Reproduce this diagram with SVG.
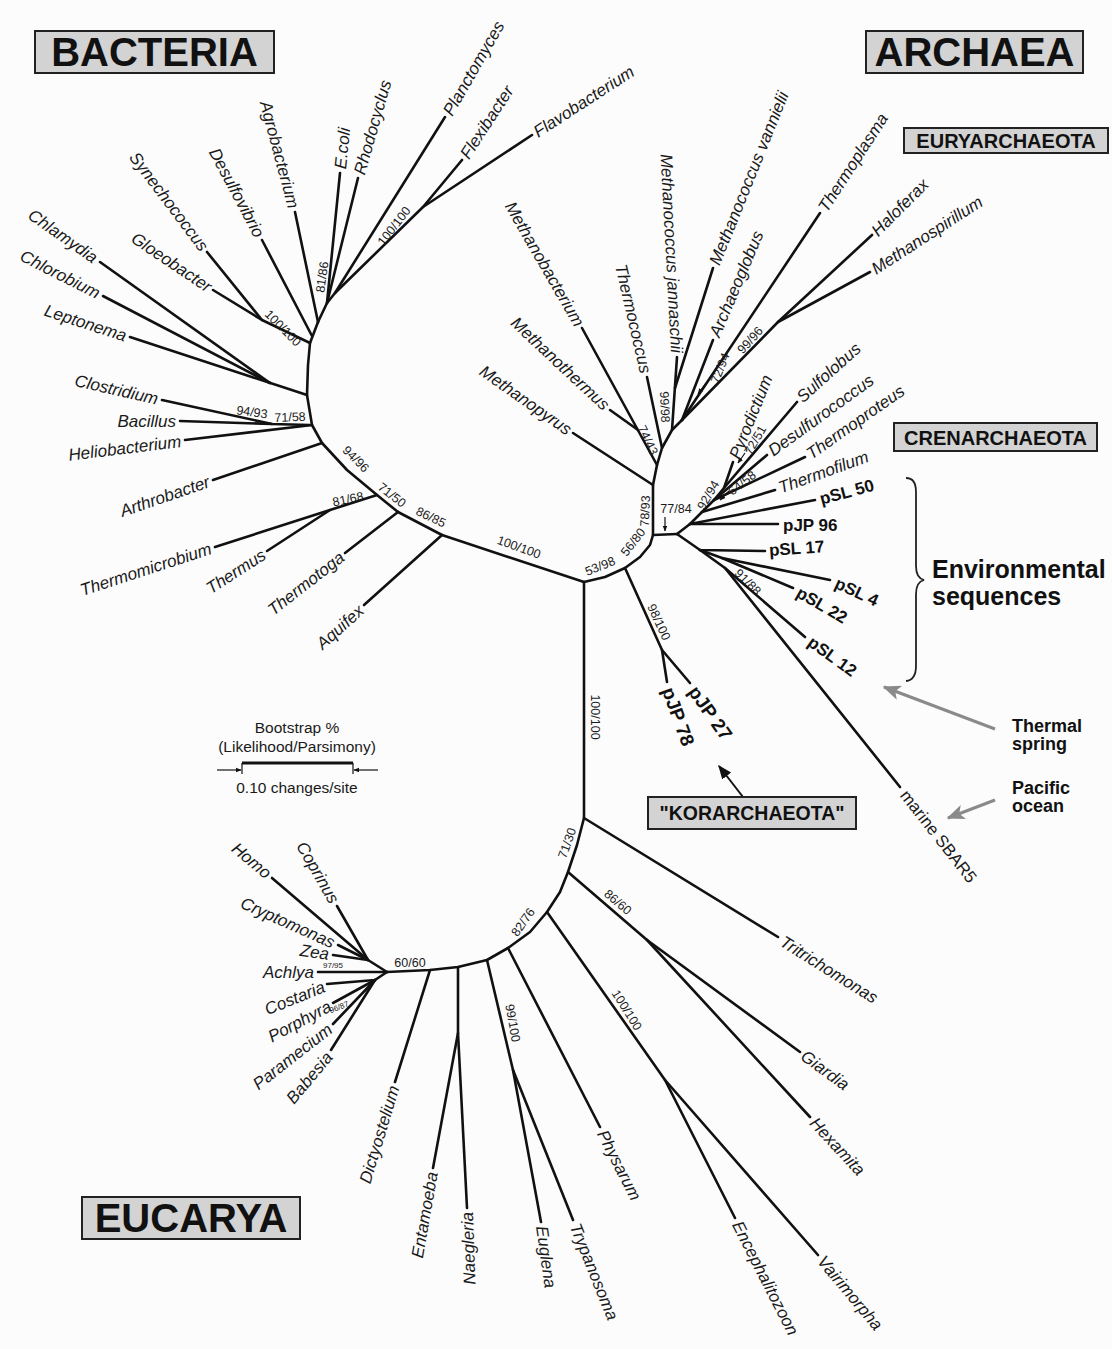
<svg xmlns="http://www.w3.org/2000/svg" width="1112" height="1349" viewBox="0 0 1112 1349">
<defs>
<style>
.br{stroke:#111;stroke-width:2.6;fill:none;stroke-linecap:round;stroke-linejoin:round}
.tx{font-family:"Liberation Sans",Arial,sans-serif;font-style:italic;font-size:17px;fill:#1a1a1a}
.ev{font-family:"Liberation Sans",Arial,sans-serif;font-weight:bold;font-size:17px;fill:#111}
.bs{font-family:"Liberation Sans",Arial,sans-serif;font-size:12.5px;fill:#1a1a1a;text-anchor:middle}
.sm{font-family:"Liberation Sans",Arial,sans-serif;font-size:8px;fill:#1a1a1a;text-anchor:middle}
.box{fill:#d3d3d3;stroke:#222;stroke-width:2}
.hd{font-family:"Liberation Sans",Arial,sans-serif;font-weight:bold;fill:#111;text-anchor:middle}
.nt{font-family:"Liberation Sans",Arial,sans-serif;font-size:15.5px;fill:#1a1a1a;text-anchor:middle}
.gr{stroke:#8a8a8a;stroke-width:3;fill:none}
.sa{stroke:#111;stroke-width:1.2;fill:none}
</style>
<marker id="ah" viewBox="0 0 10 10" refX="9" refY="5" markerWidth="7" markerHeight="7" orient="auto"><path d="M0,1 L10,5 L0,9 Z" fill="#111"/></marker>
<marker id="ahs" viewBox="0 0 10 10" refX="9" refY="5" markerWidth="5" markerHeight="5" orient="auto"><path d="M0,1 L10,5 L0,9 Z" fill="#111"/></marker>
<marker id="ahg" viewBox="0 0 12 10" refX="11" refY="5" markerWidth="6" markerHeight="5" orient="auto"><path d="M0,0 L12,5 L0,10 L3,5 Z" fill="#8a8a8a"/></marker>
</defs>
<rect width="1112" height="1349" fill="#fcfcfc"/>

<g id="connectors">
<!-- Bacteria -->
<path class="br" d="M584,582 L442,535 L398,512 L377,495 L347,470 L322,443 L312,425 L307,395 L308,365 L310,343 L318,322"/>
<path class="br" d="M442,535 L364,605"/>
<path class="br" d="M398,512 L345,553"/>
<path class="br" d="M377,495 L330,510 L215,547"/>
<path class="br" d="M330,510 L267,551"/>
<path class="br" d="M322,443 L213,480"/>
<path class="br" d="M312,425 L185,440"/>
<path class="br" d="M310,425 L272,424 L162,400"/>
<path class="br" d="M272,424 L180,421"/>
<path class="br" d="M307,395 L130,337"/>
<path class="br" d="M270,383 L100,262"/>
<path class="br" d="M270,383 L103,296"/>
<path class="br" d="M310,343 L262,320 L207,252"/>
<path class="br" d="M262,320 L213,290"/>
<path class="br" d="M312,336 L262,240"/>
<path class="br" d="M318,322 L295,212"/>
<path class="br" d="M318,322 L327,303 L340,173"/>
<path class="br" d="M327,303 L358,178"/>
<path class="br" d="M327,303 L335,293 L445,117"/>
<path class="br" d="M335,293 L423,207 L462,160"/>
<path class="br" d="M423,207 L532,135"/>
<!-- Archaea -->
<path class="br" d="M584,582 L605,577 L625,568 L640,557 L650,545 L653,535 L653,485 L657,465 L662,448 L672,430 L682,420"/>
<path class="br" d="M653,535 L677,534"/>
<path class="br" d="M625,568 L662,650 L667,682"/>
<path class="br" d="M662,650 L690,683"/>
<path class="br" d="M653,485 L573,433"/>
<path class="br" d="M657,465 L582,328"/>
<path class="br" d="M610,410 L638,430"/>
<path class="br" d="M662,448 L647,377"/>
<path class="br" d="M672,430 L677,357"/>
<path class="br" d="M675,388 L713,268"/>
<path class="br" d="M682,420 L713,340"/>
<path class="br" d="M682,420 L820,213"/>
<path class="br" d="M682,420 L778,322 L872,235"/>
<path class="br" d="M778,322 L870,272"/>
<path class="br" d="M677,534 L690,524 L778,524"/>
<path class="br" d="M690,524 L815,500"/>
<path class="br" d="M690,524 L702,512 L775,490"/>
<path class="br" d="M702,512 L714,500 L805,457"/>
<path class="br" d="M714,500 L767,455"/>
<path class="br" d="M714,500 L724,488 L797,402"/>
<path class="br" d="M724,488 L733,462"/>
<path class="br" d="M677,534 L700,550 L765,551"/>
<path class="br" d="M700,550 L722,558 L830,580"/>
<path class="br" d="M722,558 L793,588"/>
<path class="br" d="M700,550 L725,568 L900,787"/>
<path class="br" d="M725,568 L805,637"/>
<!-- Eucarya -->
<path class="br" d="M584,582 L584,818 L577,845 L568,872 L560,892 L547,912 L530,932 L508,948 L487,960 L458,967 L430,970 L387,972"/>
<path class="br" d="M584,818 L778,937"/>
<path class="br" d="M568,872 L647,940 L800,1052"/>
<path class="br" d="M647,940 L810,1117"/>
<path class="br" d="M547,912 L665,1080 L735,1218"/>
<path class="br" d="M665,1080 L818,1255"/>
<path class="br" d="M508,948 L600,1127"/>
<path class="br" d="M487,960 L513,1070 L541,1222"/>
<path class="br" d="M513,1070 L573,1220"/>
<path class="br" d="M458,967 L458,1033 L433,1168"/>
<path class="br" d="M458,1033 L467,1208"/>
<path class="br" d="M430,970 L395,1082"/>
<path class="br" d="M387,972 L368,960 L272,878"/>
<path class="br" d="M368,960 L337,906"/>
<path class="br" d="M368,960 L338,945"/>
<path class="br" d="M368,960 L333,955"/>
<path class="br" d="M387,972 L318,972"/>
<path class="br" d="M387,972 L375,980 L327,984"/>
<path class="br" d="M375,980 L333,1003"/>
<path class="br" d="M375,980 L333,1024"/>
<path class="br" d="M375,980 L331,1050"/>
<!-- small pointer arrows -->
<path class="sa" d="M665,517 L665,531" marker-end="url(#ahs)"/>
<path class="sa" d="M706,383 L698,394" marker-end="url(#ahs)"/>
<path class="sa" d="M729,491 L720,500" marker-end="url(#ahs)"/>
<path class="sa" d="M745,453 L738,463" marker-end="url(#ahs)"/>
<!-- annotation arrows -->
<path d="M743,797 L719,766" stroke="#111" stroke-width="2" fill="none" marker-end="url(#ah)"/>
<path class="gr" d="M995,729 L884,687" marker-end="url(#ahg)"/>
<path class="gr" d="M995,800 L948,818" marker-end="url(#ahg)"/>
<path d="M906,478 Q916,478 916,492 L916,566 Q916,578 924,580 Q916,582 916,594 L916,666 Q916,680 906,681" stroke="#222" stroke-width="1.8" fill="none"/>
</g>

<g id="headers">
<g id="bacteria-box"><rect class="box" x="35" y="31" width="239" height="42"/><text class="hd" x="154.5" y="66" style="font-size:40px">BACTERIA</text></g>
<g id="archaea-box"><rect class="box" x="866" y="31" width="217" height="42"/><text class="hd" x="974.5" y="66" style="font-size:40px">ARCHAEA</text></g>
<g id="euryarchaeota-box"><rect class="box" x="904" y="128" width="204" height="25"/><text class="hd" x="1006" y="148" style="font-size:20px">EURYARCHAEOTA</text></g>
<g id="crenarchaeota-box"><rect class="box" x="894" y="423" width="203" height="28"/><text class="hd" x="995.5" y="445" style="font-size:20px">CRENARCHAEOTA</text></g>
<g id="korarchaeota-box"><rect class="box" x="648" y="797" width="208" height="32"/><text class="hd" x="752" y="820" style="font-size:19.5px">"KORARCHAEOTA"</text></g>
<g id="eucarya-box"><rect class="box" x="82" y="1197" width="218" height="42"/><text class="hd" x="191" y="1232" style="font-size:40px">EUCARYA</text></g>
</g>

<g id="annotations">
<text class="ev" x="932" y="578" style="font-size:25px">Environmental</text>
<text class="ev" x="932" y="605" style="font-size:25px">sequences</text>
<text class="ev" x="1012" y="732" style="font-size:18px">Thermal</text>
<text class="ev" x="1012" y="750" style="font-size:18px">spring</text>
<text class="ev" x="1012" y="794" style="font-size:18px">Pacific</text>
<text class="ev" x="1012" y="812" style="font-size:18px">ocean</text>
<g id="scale-bar">
<text class="nt" x="297" y="733">Bootstrap %</text>
<text class="nt" x="297" y="752">(Likelihood/Parsimony)</text>
<line x1="242" y1="763" x2="353" y2="763" stroke="#111" stroke-width="3"/>
<line x1="242" y1="763" x2="242" y2="774" stroke="#111" stroke-width="1.2"/>
<line x1="353" y1="763" x2="353" y2="774" stroke="#111" stroke-width="1.2"/>
<path class="sa" d="M217,770 L241,770" marker-end="url(#ahs)"/>
<path class="sa" d="M378,770 L354,770" marker-end="url(#ahs)"/>
<text class="nt" x="297" y="793">0.10 changes/site</text>
</g>
</g>

<g id="taxa">
<g id="n-chlamydia"><text class="tx" text-anchor="end" dy="0.35em" transform="translate(96,259) rotate(35)">Chlamydia</text></g>
<g id="n-chlorobium"><text class="tx" text-anchor="end" dy="0.35em" transform="translate(99,294) rotate(27)">Chlorobium</text></g>
<g id="n-leptonema"><text class="tx" text-anchor="end" dy="0.35em" transform="translate(126,336) rotate(18)">Leptonema</text></g>
<g id="n-clostridium"><text class="tx" text-anchor="end" dy="0.35em" transform="translate(158,399) rotate(13)">Clostridium</text></g>
<g id="n-bacillus"><text class="tx" text-anchor="end" dy="0.35em" transform="translate(176,421) rotate(0)">Bacillus</text></g>
<g id="n-heliobacterium"><text class="tx" text-anchor="end" dy="0.35em" transform="translate(181,441) rotate(-7)">Heliobacterium</text></g>
<g id="n-arthrobacter"><text class="tx" text-anchor="end" dy="0.35em" transform="translate(209,481) rotate(-19)">Arthrobacter</text></g>
<g id="n-thermomicrobium"><text class="tx" text-anchor="end" dy="0.35em" transform="translate(211,548) rotate(-18)">Thermomicrobium</text></g>
<g id="n-thermus"><text class="tx" text-anchor="end" dy="0.35em" transform="translate(264,553) rotate(-33)">Thermus</text></g>
<g id="n-thermotoga"><text class="tx" text-anchor="end" dy="0.35em" transform="translate(342,555) rotate(-38)">Thermotoga</text></g>
<g id="n-aquifex"><text class="tx" text-anchor="end" dy="0.35em" transform="translate(361,608) rotate(-42)">Aquifex</text></g>
<g id="n-gloeobacter"><text class="tx" text-anchor="end" dy="0.35em" transform="translate(210,288) rotate(34)">Gloeobacter</text></g>
<g id="n-synechococcus"><text class="tx" text-anchor="end" dy="0.35em" transform="translate(205,249) rotate(53)">Synechococcus</text></g>
<g id="n-desulfovibrio"><text class="tx" text-anchor="end" dy="0.35em" transform="translate(260,236) rotate(62)">Desulfovibrio</text></g>
<g id="n-agrobacterium"><text class="tx" text-anchor="end" dy="0.35em" transform="translate(294,208) rotate(75)">Agrobacterium</text></g>
<g id="n-ecoli"><text class="tx" dy="0.35em" transform="translate(340,169) rotate(-84)">E.coli</text></g>
<g id="n-rhodocyclus"><text class="tx" dy="0.35em" transform="translate(359,174) rotate(-74)">Rhodocyclus</text></g>
<g id="n-planctomyces"><text class="tx" dy="0.35em" transform="translate(447,114) rotate(-60)">Planctomyces</text></g>
<g id="n-flexibacter"><text class="tx" dy="0.35em" transform="translate(464,157) rotate(-57)">Flexibacter</text></g>
<g id="n-flavobacterium"><text class="tx" dy="0.35em" transform="translate(535,133) rotate(-33)">Flavobacterium</text></g>

<g id="n-methanopyrus"><text class="tx" text-anchor="end" dy="0.35em" transform="translate(570,431) rotate(35)">Methanopyrus</text></g>
<g id="n-methanothermus"><text class="tx" text-anchor="end" dy="0.35em" transform="translate(607,407) rotate(43)">Methanothermus</text></g>
<g id="n-methanobacterium"><text class="tx" text-anchor="end" dy="0.35em" transform="translate(580,325) rotate(60)">Methanobacterium</text></g>
<g id="n-thermococcus"><text class="tx" text-anchor="end" dy="0.35em" transform="translate(646,373) rotate(77)">Thermococcus</text></g>
<g id="n-mjannaschii"><text class="tx" text-anchor="end" dy="0.35em" transform="translate(677,353) rotate(87)">Methanococcus jannaschii</text></g>
<g id="n-mvannielii"><text class="tx" dy="0.35em" transform="translate(714,264) rotate(-68)">Methanococcus vannielii</text></g>
<g id="n-archaeoglobus"><text class="tx" dy="0.35em" transform="translate(714,336) rotate(-67)">Archaeoglobus</text></g>
<g id="n-thermoplasma"><text class="tx" dy="0.35em" transform="translate(822,210) rotate(-57)">Thermoplasma</text></g>
<g id="n-haloferax"><text class="tx" dy="0.35em" transform="translate(874,233) rotate(-45)">Haloferax</text></g>
<g id="n-methanospirillum"><text class="tx" dy="0.35em" transform="translate(873,270) rotate(-33)">Methanospirillum</text></g>
<g id="n-pyrodictium"><text class="tx" dy="0.35em" transform="translate(734,458) rotate(-68)">Pyrodictium</text></g>
<g id="n-sulfolobus"><text class="tx" dy="0.35em" transform="translate(799,399) rotate(-42)">Sulfolobus</text></g>
<g id="n-desulfurococcus"><text class="tx" dy="0.35em" transform="translate(770,452) rotate(-36)">Desulfurococcus</text></g>
<g id="n-thermoproteus"><text class="tx" dy="0.35em" transform="translate(808,455) rotate(-35)">Thermoproteus</text></g>
<g id="n-thermofilum"><text class="tx" dy="0.35em" transform="translate(779,488) rotate(-20)">Thermofilum</text></g>
<g id="n-psl50"><text class="ev" dy="0.35em" transform="translate(820,499) rotate(-15)">pSL 50</text></g>
<g id="n-pjp96"><text class="ev" dy="0.35em" transform="translate(783,525) rotate(0)">pJP 96</text></g>
<g id="n-psl17"><text class="ev" dy="0.35em" transform="translate(769,550) rotate(-4)">pSL 17</text></g>
<g id="n-psl4"><text class="ev" dy="0.35em" transform="translate(836,582) rotate(25)">pSL 4</text></g>
<g id="n-psl22"><text class="ev" dy="0.35em" transform="translate(798,591) rotate(30)">pSL 22</text></g>
<g id="n-psl12"><text class="ev" dy="0.35em" transform="translate(810,640) rotate(36)">pSL 12</text></g>
<g id="n-sbar5"><text class="tx" style="font-style:normal" dy="0.35em" transform="translate(904,792) rotate(52)">marine SBAR5</text></g>
<g id="n-pjp27"><text class="ev" style="font-size:19px" dy="0.35em" transform="translate(693,688) rotate(55)">pJP 27</text></g>
<g id="n-pjp78"><text class="ev" style="font-size:19px" dy="0.35em" transform="translate(668,688) rotate(70)">pJP 78</text></g>

<g id="n-homo"><text class="tx" text-anchor="end" dy="0.35em" transform="translate(269,875) rotate(40)">Homo</text></g>
<g id="n-coprinus"><text class="tx" text-anchor="end" dy="0.35em" transform="translate(335,902) rotate(60)">Coprinus</text></g>
<g id="n-cryptomonas"><text class="tx" text-anchor="end" dy="0.35em" transform="translate(334,943) rotate(24)">Cryptomonas</text></g>
<g id="n-zea"><text class="tx" text-anchor="end" dy="0.35em" transform="translate(329,954) rotate(8)">Zea</text></g>
<g id="n-achlya"><text class="tx" text-anchor="end" dy="0.35em" transform="translate(314,972) rotate(0)">Achlya</text></g>
<g id="n-costaria"><text class="tx" text-anchor="end" dy="0.35em" transform="translate(324,986) rotate(-22)">Costaria</text></g>
<g id="n-porphyra"><text class="tx" text-anchor="end" dy="0.35em" transform="translate(330,1005) rotate(-28)">Porphyra</text></g>
<g id="n-paramecium"><text class="tx" text-anchor="end" dy="0.35em" transform="translate(330,1027) rotate(-38)">Paramecium</text></g>
<g id="n-babesia"><text class="tx" text-anchor="end" dy="0.35em" transform="translate(329,1054) rotate(-50)">Babesia</text></g>
<g id="n-dictyostelium"><text class="tx" text-anchor="end" dy="0.35em" transform="translate(394,1086) rotate(-73)">Dictyostelium</text></g>
<g id="n-entamoeba"><text class="tx" text-anchor="end" dy="0.35em" transform="translate(432,1172) rotate(-80)">Entamoeba</text></g>
<g id="n-naegleria"><text class="tx" text-anchor="end" dy="0.35em" transform="translate(467,1212) rotate(-92)">Naegleria</text></g>
<g id="n-euglena"><text class="tx" dy="0.35em" transform="translate(542,1226) rotate(82)">Euglena</text></g>
<g id="n-trypanosoma"><text class="tx" dy="0.35em" transform="translate(575,1224) rotate(68)">Trypanosoma</text></g>
<g id="n-physarum"><text class="tx" dy="0.35em" transform="translate(602,1131) rotate(63)">Physarum</text></g>
<g id="n-encephalitozoon"><text class="tx" dy="0.35em" transform="translate(737,1222) rotate(63)">Encephalitozoon</text></g>
<g id="n-vairimorpha"><text class="tx" dy="0.35em" transform="translate(821,1258) rotate(50)">Vairimorpha</text></g>
<g id="n-hexamita"><text class="tx" dy="0.35em" transform="translate(813,1120) rotate(47)">Hexamita</text></g>
<g id="n-giardia"><text class="tx" dy="0.35em" transform="translate(803,1054) rotate(36)">Giardia</text></g>
<g id="n-tritrichomonas"><text class="tx" dy="0.35em" transform="translate(782,940) rotate(32)">Tritrichomonas</text></g>
</g>

<g id="bootstrap">
<text class="bs" dy="0.35em" transform="translate(252,412) rotate(8)">94/93</text>
<text class="bs" dy="0.35em" transform="translate(290,417) rotate(-2)">71/58</text>
<text class="bs" dy="0.35em" transform="translate(356,459) rotate(45)">94/96</text>
<text class="bs" dy="0.35em" transform="translate(348,499) rotate(-12)">81/68</text>
<text class="bs" dy="0.35em" transform="translate(392,495) rotate(38)">71/50</text>
<text class="bs" dy="0.35em" transform="translate(431,517) rotate(25)">86/85</text>
<text class="bs" dy="0.35em" transform="translate(519,547) rotate(20)">100/100</text>
<text class="bs" dy="0.35em" transform="translate(600,566) rotate(-22)">53/98</text>
<text class="bs" dy="0.35em" transform="translate(633,542) rotate(-52)">56/80</text>
<text class="bs" dy="0.35em" transform="translate(645,511) rotate(-88)">78/93</text>
<text class="bs" dy="0.35em" transform="translate(676,509)">77/84</text>
<text class="bs" dy="0.35em" transform="translate(708,495) rotate(-60)">92/94</text>
<text class="bs" dy="0.35em" transform="translate(742,483) rotate(-38)">64/58</text>
<text class="bs" dy="0.35em" transform="translate(755,440) rotate(-60)">72/51</text>
<text class="bs" dy="0.35em" transform="translate(648,440) rotate(65)">74/43</text>
<text class="bs" dy="0.35em" transform="translate(665,407) rotate(88)">99/98</text>
<text class="bs" dy="0.35em" transform="translate(720,368) rotate(-68)">72/94</text>
<text class="bs" dy="0.35em" transform="translate(750,340) rotate(-48)">99/96</text>
<text class="bs" dy="0.35em" transform="translate(322,277) rotate(-82)">81/86</text>
<text class="bs" dy="0.35em" transform="translate(283,328) rotate(45)">100/100</text>
<text class="bs" dy="0.35em" transform="translate(394,226) rotate(-52)">100/100</text>
<text class="bs" dy="0.35em" transform="translate(659,622) rotate(65)">98/100</text>
<text class="bs" dy="0.35em" transform="translate(748,582) rotate(45)">91/88</text>
<text class="bs" dy="0.35em" transform="translate(595,717) rotate(90)">100/100</text>
<text class="bs" dy="0.35em" transform="translate(567,843) rotate(-70)">71/30</text>
<text class="bs" dy="0.35em" transform="translate(618,902) rotate(40)">86/60</text>
<text class="bs" dy="0.35em" transform="translate(523,922) rotate(-55)">82/76</text>
<text class="bs" dy="0.35em" transform="translate(410,963)">60/60</text>
<text class="bs" dy="0.35em" transform="translate(513,1023) rotate(80)">99/100</text>
<text class="bs" dy="0.35em" transform="translate(627,1010) rotate(58)">100/100</text>
<text class="sm" dy="0.35em" transform="translate(333,965)">97/95</text>
<text class="sm" dy="0.35em" transform="translate(339,1007) rotate(-22)">96/87</text>
</g>
</svg>
